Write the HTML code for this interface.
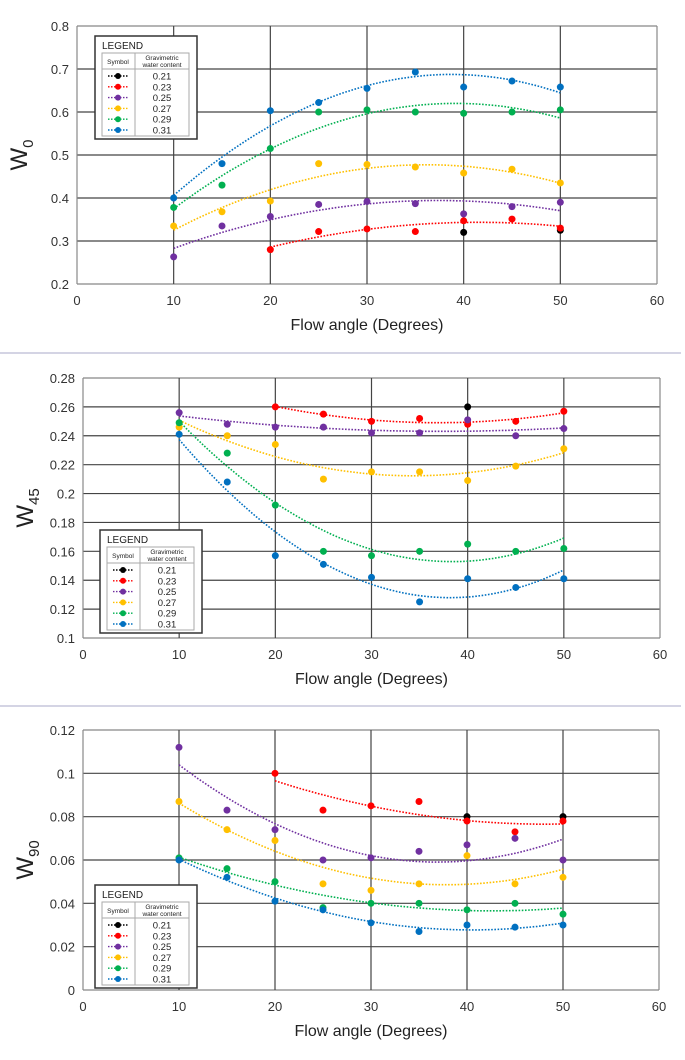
<!DOCTYPE html>
<html><head><meta charset="utf-8"><style>
body{margin:0;background:#fff;font-family:"Liberation Sans",sans-serif;}
svg{display:block}
</style></head><body>
<svg id="s" width="685" height="1060" xmlns="http://www.w3.org/2000/svg"></svg>
<script>
const xValues=[10,15,20,25,30,35,40,45,50];
const seriesLabels=["0.21","0.23","0.25","0.27","0.29","0.31"];
const seriesColors=["#000000","#ff0000","#7030a0","#ffc000","#00b050","#0070c0"];
const xTicks=[0,10,20,30,40,50,60];
// chart W0
const w0_021=[null,null,null,null,null,null,0.32,null,0.325];
const w0_023=[null,null,0.28,0.322,0.328,0.322,0.347,0.351,0.33];
const w0_025=[0.263,0.335,0.357,0.385,0.392,0.387,0.363,0.38,0.39];
const w0_027=[0.335,0.368,0.393,0.48,0.478,0.472,0.458,0.467,0.435];
const w0_029=[0.378,0.43,0.515,0.60,0.605,0.60,0.597,0.60,0.605];
const w0_031=[0.40,0.48,0.603,0.622,0.655,0.693,0.658,0.672,0.658];
const w0Ticks=[0.2,0.3,0.4,0.5,0.6,0.7,0.8];
// chart W45
const w45_021=[null,null,null,null,null,null,0.26,null,null];
const w45_023=[null,null,0.26,0.255,0.25,0.252,0.248,0.25,0.257];
const w45_025=[0.256,0.248,0.246,0.246,0.242,0.242,0.251,0.24,0.245];
const w45_027=[0.246,0.24,0.234,0.21,0.215,0.215,0.209,0.219,0.231];
const w45_029=[0.249,0.228,0.192,0.16,0.157,0.16,0.165,0.16,0.162];
const w45_031=[0.241,0.208,0.157,0.151,0.142,0.125,0.141,0.135,0.141];
const w45Ticks=[0.1,0.12,0.14,0.16,0.18,0.2,0.22,0.24,0.26,0.28];
// chart W90
const w90_021=[null,null,null,null,null,null,0.08,null,0.08];
const w90_023=[null,null,0.1,0.083,0.085,0.087,0.078,0.073,0.078];
const w90_025=[0.112,0.083,0.074,0.06,0.061,0.064,0.067,0.07,0.06];
const w90_027=[0.087,0.074,0.069,0.049,0.046,0.049,0.062,0.049,0.052];
const w90_029=[0.061,0.056,0.05,0.038,0.04,0.04,0.037,0.04,0.035];
const w90_031=[0.06,0.052,0.041,0.037,0.031,0.027,0.03,0.029,0.03];
const w90Ticks=[0,0.02,0.04,0.06,0.08,0.1,0.12];

const NS="http://www.w3.org/2000/svg";
const svg=document.getElementById('s');
function el(tag,attrs,parent){const e=document.createElementNS(NS,tag);for(const k in attrs)e.setAttribute(k,attrs[k]);(parent||svg).appendChild(e);return e;}
function fitQuad(xs,ys){
  let n=0,sx=0,sx2=0,sx3=0,sx4=0,sy=0,sxy=0,sx2y=0;
  for(let i=0;i<xs.length;i++){const x=xs[i],y=ys[i];n++;sx+=x;sx2+=x*x;sx3+=x*x*x;sx4+=x*x*x*x;sy+=y;sxy+=x*y;sx2y+=x*x*y;}
  const M=[[n,sx,sx2,sy],[sx,sx2,sx3,sxy],[sx2,sx3,sx4,sx2y]];
  for(let i=0;i<3;i++){for(let j=i+1;j<3;j++){const f=M[j][i]/M[i][i];for(let k=i;k<4;k++)M[j][k]-=f*M[i][k];}}
  const c=[0,0,0];
  for(let i=2;i>=0;i--){let s=M[i][3];for(let k=i+1;k<3;k++)s-=M[i][k]*c[k];c[i]=s/M[i][i];}
  return x=>c[0]+c[1]*x+c[2]*x*x;
}
function drawChart(cfg){
  const g=el('g',{});
  
  
  const {L,R,T,B,ymin,ymax}=cfg;
  const xs=v=>L+(v-0)/60*(R-L);
  const ys=v=>B-(v-ymin)/(ymax-ymin)*(B-T);
  cfg.yTicks.forEach(t=>{
    const l=el('line',{x1:L,x2:R,y1:ys(t),y2:ys(t),stroke:(t===ymin||t===ymax)?'#888':'#444','stroke-width':1.2},g);
    
    
    const tx=el('text',{x:L-8,y:ys(t)+5,'text-anchor':'end','font-size':13,fill:'#333'},g);
    tx.textContent=String(t);
    
    
  });
  xTicks.forEach(t=>{
    const l=el('line',{x1:xs(t),x2:xs(t),y1:T,y2:B,stroke:(t===0||t===60)?'#888':'#444','stroke-width':1.2},g);
    
    
    const tx=el('text',{x:xs(t),y:B+21,'text-anchor':'middle','font-size':13,fill:'#333'},g);
    tx.textContent=String(t);
    
    
  });
  const xt=el('text',{x:(L+R)/2,y:B+46,'text-anchor':'middle','font-size':16,fill:'#222'},g);
  xt.textContent='Flow angle (Degrees)';
  
  
  const cy=(T+B)/2, cx=L-50;
  const yt=el('text',{x:0,y:0,'font-size':24,fill:'#222',transform:`translate(${cx},${cy}) rotate(-90)`,'text-anchor':'middle'},g);
  
  
  const t1=el('tspan',{},yt);t1.textContent='W';
  const t2=el('tspan',{'font-size':15,dy:6},yt);t2.textContent=cfg.sub;
  cfg.series.forEach((arr,si)=>{
    const px=[],py=[];
    arr.forEach((v,i)=>{if(v!==null){px.push(xValues[i]);py.push(v);}});
    if(px.length>=3){
      const f=fitQuad(px,py);
      let d='';
      const x0=px[0],x1=px[px.length-1];
      for(let k=0;k<=60;k++){const x=x0+(x1-x0)*k/60;d+=(k?'L':'M')+xs(x).toFixed(1)+' '+ys(f(x)).toFixed(1);}
      const p=el('path',{d,fill:'none',stroke:seriesColors[si],'stroke-width':1.6,'stroke-dasharray':'1.6 1.6'},g);
      
      
    }
    px.forEach((x,i)=>{
      const c=el('circle',{cx:xs(x),cy:ys(py[i]),r:3.5,fill:seriesColors[si]},g);
      
      
    });
  });
  const lx=cfg.lx, ly=cfg.ly;
  const lg=el('g',{},g);
  
  
  el('rect',{x:lx,y:ly,width:102,height:103,fill:'#fff',stroke:'#333','stroke-width':1.5},lg);
  const lt=el('text',{x:lx+7,y:ly+13,'font-size':10,fill:'#222'},lg);lt.textContent='LEGEND';
  el('rect',{x:lx+7,y:ly+17,width:87,height:83,fill:'none',stroke:'#aaa','stroke-width':1},lg);
  el('line',{x1:lx+7,x2:lx+94,y1:ly+33,y2:ly+33,stroke:'#aaa'},lg);
  el('line',{x1:lx+40,x2:lx+40,y1:ly+17,y2:ly+100,stroke:'#aaa'},lg);
  const h1=el('text',{x:lx+23,y:ly+28,'font-size':6.5,'text-anchor':'middle',fill:'#222'},lg);h1.textContent='Symbol';
  const h2=el('text',{x:lx+67,y:ly+24,'font-size':6.5,'text-anchor':'middle',fill:'#222'},lg);h2.textContent='Gravimetric';
  const h3=el('text',{x:lx+67,y:ly+31,'font-size':6.5,'text-anchor':'middle',fill:'#222'},lg);h3.textContent='water content';
  seriesLabels.forEach((lab,i)=>{
    const yy=ly+40+i*10.8;
    const e=el('g',{},lg);
    
    
    el('line',{x1:lx+13,x2:lx+33,y1:yy,y2:yy,stroke:seriesColors[i],'stroke-width':1.4,'stroke-dasharray':'1.5 1.5'},e);
    el('circle',{cx:lx+23,cy:yy,r:3,fill:seriesColors[i]},e);
    const t=el('text',{x:lx+67,y:yy+3.5,'font-size':9.5,'text-anchor':'middle',fill:'#222'},e);t.textContent=lab;
  });
}
drawChart({name:'chart-w0',L:77,R:657,T:26,B:284,ymin:0.2,ymax:0.8,yTicks:w0Ticks,sub:'0',
  series:[w0_021,w0_023,w0_025,w0_027,w0_029,w0_031],lx:95,ly:36});
drawChart({name:'chart-w45',L:83,R:660,T:378,B:638,ymin:0.1,ymax:0.28,yTicks:w45Ticks,sub:'45',
  series:[w45_021,w45_023,w45_025,w45_027,w45_029,w45_031],lx:100,ly:530});
drawChart({name:'chart-w90',L:83,R:659,T:730,B:990,ymin:0,ymax:0.12,yTicks:w90Ticks,sub:'90',
  series:[w90_021,w90_023,w90_025,w90_027,w90_029,w90_031],lx:95,ly:885});
const s1=el('line',{x1:0,x2:681,y1:353,y2:353,stroke:'#d4d4e4','stroke-width':2});


const s2=el('line',{x1:0,x2:681,y1:706,y2:706,stroke:'#d4d4e4','stroke-width':2});


</script>
</body></html>
